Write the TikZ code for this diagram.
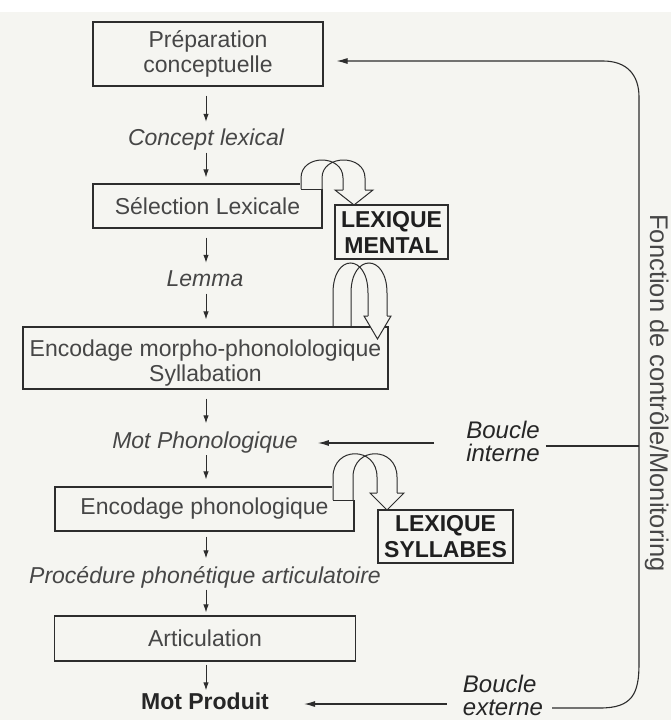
\documentclass[tikz,border=0pt]{standalone}
\usepackage{fontspec}
\setmainfont{Liberation Sans}
\usetikzlibrary{arrows.meta}
\definecolor{paper}{RGB}{245,245,241}
\definecolor{ink}{RGB}{70,70,70}
\definecolor{linecol}{RGB}{45,45,45}
\begin{document}
\begin{tikzpicture}[x=1pt,y=-1pt,
  txt/.style={inner sep=0pt, text height=16pt, text depth=5pt, font=\fontsize{23}{25}\selectfont, text=ink},
  itl/.style={txt, font=\fontsize{23}{25}\selectfont\itshape},
  procbox/.style={draw=linecol, line width=1.1pt, inner sep=0pt, align=center, font=\fontsize{23}{25}\selectfont, text=ink, fill=paper},
  lexbox/.style={procbox, font=\fontsize{23}{26}\selectfont\bfseries, text=black!88},
  blab/.style={inner sep=0pt, align=left, font=\fontsize{24}{23}\selectfont\itshape, text=black!85},
  arr/.style={draw=linecol, line width=1pt, -{Latex[length=8pt,width=5.5pt]}},
  harr/.style={draw=linecol, line width=1.1pt, -{Latex[length=11pt,width=6pt]}},
  fb/.style={draw=linecol, line width=1.1pt},
  uarr/.style={draw=linecol, line width=1pt}
]
\useasboundingbox (0,0) rectangle (671,720);
\fill[white] (0,0) rectangle (671,720);
\fill[paper] (0,12) rectangle (671,720);

% main column
\node[procbox, minimum width=230pt, minimum height=64pt] (b1) at (208,54) {Préparation\\conceptuelle};
\node[itl] (l1) at (206,140) {Concept lexical};
\node[procbox, minimum width=229pt, minimum height=44pt] (b2) at (207.5,206) {Sélection Lexicale};
\node[lexbox, minimum width=113pt, minimum height=54pt] (lm) at (391.5,232) {LEXIQUE\\MENTAL};
\node[itl] (l2) at (205,281) {Lemma};
\node[procbox, minimum width=365pt, minimum height=62pt] (b3) at (205.5,358) {\rule{0pt}{27pt}Encodage morpho-phonolologique\\Syllabation};
\node[itl] (l3) at (205,443) {Mot Phonologique};
\node[procbox, minimum width=299pt, minimum height=44pt] (b4) at (204.5,509) {Encodage phonologique};
\node[lexbox, minimum width=135pt, minimum height=53pt] (ls) at (445.5,536.5) {LEXIQUE\\SYLLABES};
\node[itl] (l4) at (205,578) {Procédure phonétique articulatoire};
\node[procbox, minimum width=301pt, minimum height=45pt] (b5) at (205,638.5) {Articulation};
\node[txt, font=\fontsize{23}{25}\selectfont\bfseries, text=black!85] (l5) at (205,704) {Mot Produit};
\node[blab] (lint) at (503,441.5) {Boucle\\interne};
\node[blab] (lext) at (503,695.5) {Boucle\\externe};
\node[inner sep=0pt, text height=19pt, text depth=5pt, font=\fontsize{25.5}{27}\selectfont, text=ink, rotate=-90] (fc) at (657,393) {Fonction de contrôle/Monitoring};

\coordinate (col) at (206,0);

% vertical arrows
\draw[arr, shorten <=9pt, shorten >=7.5pt] (b1.south -| col) -- (l1.north -| col);
\draw[arr, shorten <=2pt, shorten >=6pt] (l1.south -| col) -- (b2.north -| col);
\draw[arr, shorten <=9pt, shorten >=7.5pt] (b2.south -| col) -- (l2.north -| col);
\draw[arr, shorten <=2pt, shorten >=7pt] (l2.south -| col) -- (b3.north -| col);
\draw[arr, shorten <=9pt, shorten >=9pt] (b3.south -| col) -- (l3.north -| col);
\draw[arr, shorten <=1.5pt, shorten >=7pt] (l3.south -| col) -- (b4.north -| col);
\draw[arr, shorten <=5pt, shorten >=9pt] (b4.south -| col) -- (l4.north -| col);
\draw[arr, shorten <=1pt, shorten >=3pt] (l4.south -| col) -- (b5.north -| col);
\draw[arr, shorten <=3pt, shorten >=3pt] (b5.south -| col) -- (l5.north -| col);

% U-shaped arrow 1 : Sélection -> Lexique mental
\fill[paper] (300,183) rectangle (323.5,189);
\draw[uarr] (301,189) -- (301,178) .. controls (301,154) and (343,154) .. (343,178) -- (343,190);
\draw[uarr] (322,189) -- (322,178) .. controls (322,154) and (365,154) .. (365,178) -- (365,190);
\draw[uarr] (301,189) -- (322,189);
\draw[uarr, fill=paper] (343,190) -- (335,190) -- (354,205) -- (373,190) -- (365,190);

% U-shaped arrow 2 : Lexique mental -> Encodage morpho
\draw[uarr] (333,327) -- (333,293) .. controls (333,253) and (368,253) .. (368,293) -- (368,316);
\draw[uarr] (351,327) -- (351,293) .. controls (351,253) and (387,253) .. (387,293) -- (387,316);
\draw[uarr, fill=paper] (368,316) -- (364,316) -- (377.5,339) -- (391,316) -- (387,316);

% U-shaped arrow 3 : Encodage phonologique -> Lexique syllabes
\fill[paper] (332,486) rectangle (355,500);
\draw[uarr] (333,500) -- (333,477) .. controls (333,446) and (377,446) .. (377,477) -- (377,493);
\draw[uarr] (353,500) -- (353,477) .. controls (353,446) and (397,446) .. (397,477) -- (397,493);
\draw[uarr] (333,500) -- (353,500);
\draw[uarr, fill=paper] (377,493) -- (370,493) -- (387,510) -- (404,493) -- (397,493);

% feedback loop
\coordinate (fbstart) at (552,708);
\coordinate (vjoin) at (639,446);
\coordinate (fbtop) at (603,61);
\draw[fb, -{Latex[length=11pt,width=6pt]}, shorten >=13pt]
  (fbstart) -- (600,708) .. controls (632,708) and (639,694) .. (639,664)
  -- (639,97) .. controls (639,75) and (627,61) .. (fbtop)
  -- (fbtop -| b1.east);
\draw[fb, shorten <=6pt] (lint.east |- vjoin) -- (vjoin);
\draw[harr, shorten <=32pt, shorten >=20pt] (l3.east -| lint.west) -- (l3.east);
\draw[harr, shorten <=16pt, shorten >=35pt] (l5.east -| lext.west) -- (l5.east);
\end{tikzpicture}
\end{document}
